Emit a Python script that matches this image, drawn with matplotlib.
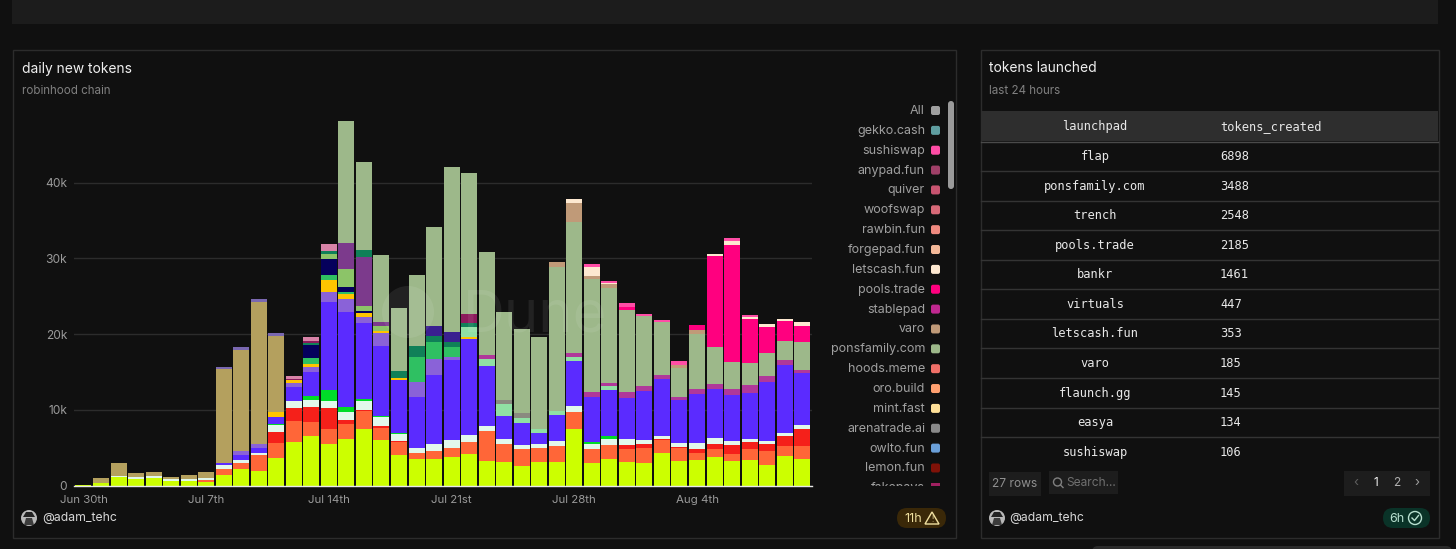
import matplotlib
matplotlib.use("Agg")
from matplotlib import pyplot as plt
from matplotlib.patches import Circle, FancyBboxPatch, Polygon, Rectangle
import numpy as np

W, H = 1456, 549
plt.rcParams["font.family"] = ["Inter", "DejaVu Sans"]

# daily tokens per launchpad, Jun 30th to Aug 10th, one row per week
lime = [130, 350, 1140, 920, 1060, 570, 620,
        530, 1410, 2200, 1940, 3650, 5810, 6560,
        5500, 6160, 7480, 6030, 4050, 3520, 3520,
        3740, 4140, 3260, 3170, 2640, 3170, 3170,
        7480, 3040, 3480, 3170, 2990, 4310, 3300,
        3340, 3780, 3260, 3430, 2770, 3920, 3520]
orange = [0, 0, 0, 0, 0, 0, 0,
          260, 790, 750, 2070, 1980, 2730, 1850,
          1980, 1940, 2420, 1630, 1670, 750, 1010,
          1280, 1580, 3960, 2380, 2200, 1760, 2070,
          2290, 1760, 1890, 1630, 2020, 1760, 1670,
          1010, 1060, 970, 1410, 1760, 1360, 1720]
red = [0, 0, 0, 0, 0, 0, 0,
       0, 0, 0, 0, 1450, 1670, 1980,
       2820, 570, 130, 180, 130, 0, 0,
       0, 0, 0, 0, 0, 0, 0,
       0, 0, 0, 620, 530, 130, 130,
       530, 700, 1140, 920, 1010, 1320, 2200]
mint = [0, 0, 180, 180, 220, 260, 260,
        220, 530, 440, 350, 920, 970, 920,
        920, 1100, 1190, 1230, 920, 750, 920,
        1010, 920, 700, 570, 570, 530, 660,
        700, 700, 750, 700, 530, 310, 530,
        700, 700, 570, 350, 310, 400, 530]
bright_green = [0, 0, 0, 0, 0, 0, 0,
                0, 0, 0, 0, 90, 0, 570,
                1450, 570, 260, 130, 130, 0, 0,
                0, 0, 0, 0, 0, 0, 0,
                0, 310, 400, 0, 0, 0, 0,
                0, 0, 0, 0, 0, 0, 0]
violet = [0, 0, 0, 0, 0, 0, 0,
          0, 220, 700, 620, 920, 1850, 3080,
          11570, 12540, 9940, 9280, 7000, 6640, 9200,
          10560, 12670, 7880, 3080, 2820, 1540, 3390,
          5980, 5940, 6160, 5410, 6420, 7570, 5630,
          6560, 6560, 5980, 6070, 7790, 8930, 6860]
light_purple = [0, 0, 0, 0, 0, 0, 0,
                0, 0, 440, 530, 0, 530, 700,
                1280, 1760, 880, 1720, 0, 2070, 2070,
                350, 0, 0, 0, 0, 0, 0,
                0, 0, 0, 0, 0, 0, 0,
                0, 0, 0, 0, 0, 0, 0]
yellow = [0, 0, 0, 0, 0, 0, 0,
          0, 0, 0, 0, 660, 350, 440,
          1630, 660, 440, 260, 350, 0, 0,
          0, 260, 0, 0, 0, 0, 0,
          0, 0, 0, 0, 0, 0, 0,
          0, 0, 0, 0, 0, 0, 0]
green2 = [0, 0, 0, 0, 0, 0, 0,
          0, 0, 0, 0, 0, 0, 790,
          660, 260, 0, 0, 0, 3300, 2290,
          1320, 0, 0, 0, 0, 0, 0,
          0, 0, 0, 0, 0, 0, 0,
          0, 0, 0, 0, 0, 0, 0]
navy = [0, 0, 0, 0, 0, 0, 0,
        0, 0, 0, 0, 0, 0, 1670,
        2160, 620, 260, 0, 0, 0, 0,
        0, 0, 0, 0, 0, 0, 0,
        0, 0, 0, 0, 0, 0, 0,
        0, 0, 0, 0, 0, 0, 0]
mid_green = [0, 0, 0, 0, 0, 0, 0,
             0, 0, 0, 0, 0, 0, 0,
             620, 2380, 750, 620, 0, 0, 0,
             0, 0, 0, 0, 0, 0, 0,
             0, 0, 0, 0, 0, 0, 0,
             0, 0, 0, 0, 0, 0, 0]
pale_green = [0, 0, 0, 0, 0, 0, 0,
              0, 0, 0, 0, 0, 0, 0,
              0, 0, 0, 0, 0, 0, 0,
              0, 1410, 880, 1540, 750, 530, 620,
              570, 0, 480, 0, 0, 0, 0,
              0, 0, 0, 0, 0, 0, 0]
purple = [0, 0, 0, 0, 0, 0, 0,
          0, 0, 0, 0, 0, 0, 0,
          0, 3430, 6470, 570, 0, 0, 0,
          0, 0, 0, 0, 0, 0, 0,
          0, 0, 0, 0, 0, 0, 0,
          0, 0, 0, 0, 0, 0, 0]
teal = [0, 0, 0, 0, 0, 0, 0,
        0, 0, 0, 0, 0, 0, 260,
        400, 0, 880, 0, 920, 1450, 750,
        750, 440, 0, 0, 0, 0, 0,
        0, 0, 0, 0, 0, 0, 0,
        0, 0, 0, 0, 0, 0, 0]
indigo = [0, 0, 0, 0, 0, 0, 0,
          0, 0, 0, 0, 0, 0, 0,
          0, 0, 0, 0, 0, 0, 1360,
          1280, 0, 0, 0, 0, 0, 0,
          0, 0, 0, 0, 0, 0, 0,
          0, 0, 0, 0, 0, 0, 0]
maroon = [0, 0, 0, 0, 0, 0, 0,
          0, 0, 0, 0, 0, 220, 220,
          0, 0, 0, 0, 0, 0, 0,
          0, 1230, 0, 0, 0, 0, 0,
          0, 0, 0, 0, 0, 0, 0,
          0, 0, 0, 0, 0, 0, 0]
stablepad = [0, 0, 0, 0, 0, 0, 0,
             0, 0, 0, 0, 0, 0, 0,
             0, 0, 0, 0, 0, 0, 0,
             0, 0, 530, 0, 0, 0, 0,
             480, 660, 350, 880, 700, 480, 480,
             570, 660, 880, 1060, 840, 620, 400]
grey = [0, 0, 0, 0, 0, 0, 0,
        0, 0, 0, 0, 0, 0, 0,
        0, 0, 0, 0, 0, 0, 0,
        0, 0, 0, 570, 570, 0, 0,
        0, 0, 0, 0, 0, 0, 0,
        0, 0, 0, 0, 0, 0, 0]
khaki = [0, 660, 1630, 620, 530, 310, 570,
         790, 12500, 13420, 18700, 10120, 0, 0,
         0, 0, 0, 0, 0, 0, 0,
         0, 0, 0, 0, 0, 0, 0,
         0, 0, 0, 0, 0, 0, 0,
         0, 0, 0, 0, 0, 0, 0]
khaki_cap = [0, 0, 0, 0, 0, 0, 0,
             0, 220, 310, 400, 350, 0, 0,
             0, 0, 0, 0, 0, 0, 0,
             0, 0, 0, 0, 0, 0, 0,
             0, 0, 0, 0, 0, 0, 0,
             0, 0, 0, 0, 0, 0, 0]
pink_mix = [0, 0, 0, 0, 0, 0, 0,
            0, 0, 0, 0, 0, 350, 530,
            880, 0, 0, 0, 0, 0, 0,
            0, 0, 0, 0, 0, 0, 0,
            0, 0, 0, 0, 0, 0, 0,
            0, 0, 0, 0, 0, 0, 0]
ponsfamily = [0, 0, 0, 0, 0, 0, 0,
              0, 0, 0, 0, 0, 0, 0,
              0, 16100, 11570, 8800, 8320, 9330, 12980,
              21740, 18610, 13600, 11570, 11180, 12140, 18960,
              17340, 14830, 12540, 10820, 9200, 7000, 3780,
              7300, 4840, 3480, 2990, 3040, 2600, 3700]
varo = [0, 0, 0, 0, 0, 0, 0,
        0, 0, 0, 0, 0, 0, 0,
        0, 0, 0, 0, 0, 0, 0,
        0, 0, 0, 0, 0, 0, 700,
        2420, 480, 570, 0, 0, 0, 400,
        530, 0, 0, 0, 0, 0, 0]
pools_trade = [0, 0, 0, 0, 0, 0, 0,
               0, 0, 0, 0, 0, 0, 0,
               0, 0, 0, 0, 0, 0, 0,
               0, 0, 0, 0, 0, 0, 0,
               0, 0, 0, 350, 0, 0, 0,
               620, 12010, 15490, 5720, 3430, 2600, 2200]
letscash = [0, 0, 0, 0, 0, 0, 0,
            0, 0, 0, 0, 0, 0, 0,
            0, 0, 0, 0, 0, 0, 0,
            0, 0, 0, 0, 0, 0, 0,
            530, 1190, 180, 0, 0, 0, 0,
            0, 310, 530, 310, 350, 310, 440]
sushiswap = [0, 0, 0, 0, 0, 0, 0,
             0, 0, 0, 0, 0, 0, 0,
             0, 0, 0, 0, 0, 0, 0,
             0, 0, 0, 0, 0, 0, 0,
             0, 310, 220, 530, 260, 310, 570,
             0, 0, 400, 220, 0, 0, 0]

stack = [(lime, "#ccff00"), (orange, "#ff6638"), (red, "#f5201a"), (mint, "#e2f8ec"),
         (bright_green, "#00dc28"), (violet, "#5b2bff"), (light_purple, "#8a62d8"),
         (yellow, "#ffc400"), (green2, "#2fc062"), (navy, "#05005c"), (mid_green, "#8cc468"),
         (pale_green, "#90e0a4"), (purple, "#7c3a8c"), (teal, "#108058"), (indigo, "#3a2090"),
         (maroon, "#8c1a5c"), (stablepad, "#b0389a"), (grey, "#8a8a80"), (khaki, "#b4a05e"),
         (khaki_cap, "#7a68b0"), (pink_mix, "#d884a8"), (ponsfamily, "#9db88a"),
         (varo, "#c09a78"), (pools_trade, "#ff007f"), (letscash, "#fde8d0"),
         (sushiswap, "#ff4da6")]

date_ticks = [0, 7, 14, 21, 28, 35]
date_labels = ["Jun 30th", "Jul 7th", "Jul 14th", "Jul 21st", "Jul 28th", "Aug 4th"]
y_ticks = [0, 10000, 20000, 30000, 40000]
y_labels = ["0", "10k", "20k", "30k", "40k"]

legend_names = ["All", "gekko.cash", "sushiswap", "anypad.fun", "quiver", "woofswap",
                "rawbin.fun", "forgepad.fun", "letscash.fun", "pools.trade", "stablepad",
                "varo", "ponsfamily.com", "hoods.meme", "oro.build", "mint.fast",
                "arenatrade.ai", "owlto.fun", "lemon.fun"]
legend_colors = ["#a0a0a0", "#5f9ea0", "#ff4da6", "#a04068", "#c85470", "#d86a78",
                 "#f08a80", "#f4b898", "#fde8d0", "#ff007f", "#c02890",
                 "#c09a78", "#9db88a", "#f07068", "#ffa070", "#ffe098",
                 "#8a8a8a", "#6a9fd8", "#801208"]

launchpads = ["flap", "ponsfamily.com", "trench", "pools.trade", "bankr", "virtuals",
              "letscash.fun", "varo", "flaunch.gg", "easya", "sushiswap"]
tokens_created = [6898, 3488, 2548, 2185, 1461, 447, 353, 185, 145, 134, 106]
row_y = [156, 186, 215, 245, 274, 304, 333, 363, 393, 422, 452]

BG = "#101010"
fs = lambda px: px * 0.72  # font px to pt at dpi 100


def box(ax, x0, y0, x1, y1, color, radius=0, **kw):
    if radius:
        p = FancyBboxPatch((x0 + radius, y0 + radius), x1 - x0 - 2 * radius, y1 - y0 - 2 * radius,
                           boxstyle="round,pad=%f,rounding_size=%f" % (radius, radius),
                           fc=color, ec="none", **kw)
    else:
        p = Rectangle((x0, y0), x1 - x0, y1 - y0, fc=color, ec=kw.pop("ec", "none"), **kw)
    ax.add_patch(p)


def avatar(ax, x, y):
    ax.add_patch(Circle((x, y), 8, fc="#b8b8b8", ec="none"))
    ax.add_patch(Polygon([(x - 6, y - 1), (x + 6, y - 1), (x + 3, y - 6), (x - 3, y - 6)], fc="#222222", ec="none"))
    ax.add_patch(Polygon([(x - 5, y + 7), (x + 5, y + 7), (x + 3, y), (x - 3, y)], fc="#3c3c3c", ec="none"))


fig = plt.figure(figsize=(W / 100, H / 100), dpi=100, facecolor=BG)

# page chrome, in pixel coordinates
bg = fig.add_axes([0, 0, 1, 1], zorder=0)
bg.set_xlim(0, W)
bg.set_ylim(H, 0)
bg.axis("off")
box(bg, 12, 0, 1438, 24, "#1c1c1c")
box(bg, 1092, 546, 1452, 560, "#2a2a2a", radius=6)
bg.add_patch(Rectangle((12.5, 49.5), 943, 488, fc="none", ec="#2c2c2c", lw=1))
bg.add_patch(Rectangle((980.5, 49.5), 458, 488, fc="none", ec="#2c2c2c", lw=1))

bg.text(22, 68.5, "daily new tokens", color="#f0f0f0", fontsize=fs(13.8), va="center")
bg.text(22, 90.8, "robinhood chain", color="#808080", fontsize=fs(11.6), va="center")
bg.text(989, 68.5, "tokens launched", color="#f0f0f0", fontsize=fs(13.8), va="center")
bg.text(989, 90.8, "last 24 hours", color="#808080", fontsize=fs(11.6), va="center")

# legend
for i, (name, col) in enumerate(zip(legend_names, legend_colors)):
    ly = 110.5 + i * 19.86
    bg.text(925, ly + 0.5, name, color="#a0a0a0", fontsize=fs(12.5), ha="right", va="center")
    box(bg, 931, ly - 4.5, 940, ly + 4.5, col, radius=2)
clip = Rectangle((820, 470), 125, 15.5, transform=bg.transData)
t = bg.text(925, 110.5 + 19 * 19.86, "fakepays", color="#a0a0a0", fontsize=fs(12.5), ha="right", va="center",
            clip_on=True)
t.set_clip_path(clip)
bg.add_patch(Rectangle((931, 483), 9, 2.5, fc="#a02060", ec="none"))
box(bg, 948, 101, 954, 189, "#9a9a9a", radius=3)

# table
box(bg, 981, 111, 1438, 141, "#2e2e2e")
mono = ["DejaVu Sans Mono"]
bg.text(1095, 126.5, "launchpad", color="#e8e8e8", fontsize=fs(12), family=mono, ha="center", va="center")
bg.text(1220, 126.5, "tokens_created", color="#e8e8e8", fontsize=fs(12), family=mono, va="center")
bg.plot([981, 1438], [141.5, 141.5], color="#4a4a4a", lw=1)
for name, val, y in zip(launchpads, tokens_created, row_y):
    bg.text(1095, y + 0.5, name, color="#e8e8e8", fontsize=fs(12), family=mono, ha="center", va="center")
    bg.text(1220, y + 0.5, str(val), color="#e8e8e8", fontsize=fs(12), family=mono, va="center")
    if y < 452:
        bg.plot([981, 1438], [y + 15, y + 15], color="#343434", lw=1)

# table footer
box(bg, 989, 472, 1041, 496, "#1d1d1d")
bg.text(1015, 484, "27 rows", color="#909090", fontsize=fs(12), ha="center", va="center")
box(bg, 1049, 471, 1118, 494, "#1d1d1d")
bg.add_patch(Circle((1057.5, 482), 4, fc="none", ec="#808080", lw=1))
bg.plot([1060.5, 1063], [485, 487.5], color="#808080", lw=1)
bg.text(1066, 483, "Search...", color="#707070", fontsize=fs(12), va="center")
box(bg, 1344, 471, 1430, 496, "#1d1d1d")
bg.text(1356, 483, "‹", color="#606060", fontsize=fs(13), ha="center", va="center")
bg.text(1376, 483.5, "1", color="#f0f0f0", fontsize=fs(12), ha="center", va="center")
bg.text(1397, 483.5, "2", color="#b0b0b0", fontsize=fs(12), ha="center", va="center")
bg.text(1417, 483, "›", color="#a0a0a0", fontsize=fs(13), ha="center", va="center")

avatar(bg, 997, 518)
bg.text(1009, 518.5, "@adam_tehc", color="#d8d8d8", fontsize=fs(12.2), va="center")
box(bg, 1383, 508, 1430, 528, "#0a3328", radius=10)
bg.text(1389, 518.5, "6h", color="#b8e0d0", fontsize=fs(12.5), va="center")
bg.add_patch(Circle((1415, 518), 6.5, fc="none", ec="#b8e0d0", lw=1))
bg.plot([1412, 1414.5, 1418.5], [518, 520.5, 515.5], color="#b8e0d0", lw=1)

avatar(bg, 29, 518)
bg.text(42, 518.5, "@adam_tehc", color="#d8d8d8", fontsize=fs(12.2), va="center")
box(bg, 897, 508, 946, 528, "#3a2808", radius=10)
bg.text(904, 518.5, "11h", color="#f0e0a0", fontsize=fs(12.5), va="center")
bg.add_patch(Polygon([(932, 512), (939, 524), (925, 524)], fc="none", ec="#f0e0a0", lw=1))
bg.text(932, 519.5, "!", color="#f0e0a0", fontsize=fs(8), ha="center", va="center")

# chart, axes box placed in pixels
left, right, top, bottom = 74, 812, 100, 485.7
ax = fig.add_axes([left / W, 1 - bottom / H, (right - left) / W, (bottom - top) / H], zorder=1)
ax.patch.set_alpha(0)
x = np.arange(len(lime))
base = np.zeros(len(lime))
for values, col in stack:
    ax.bar(x, values, bottom=base, width=0.91, color=col, zorder=3)
    base += np.array(values)
ax.set_xlim(-0.54, 41.56)
ax.set_ylim(0, (bottom - top) / 75.75 * 10000)
ax.set_yticks(y_ticks, y_labels)
ax.set_xticks(date_ticks, date_labels)
ax.grid(axis="y", color="#2c2c2c", lw=1, zorder=0)
ax.tick_params(length=0, colors="#9a9a9a", labelsize=fs(12))
ax.tick_params(axis="x", labelsize=fs(11.5), pad=7)
ax.tick_params(axis="y", pad=5)
for s in ["top", "right", "left"]:
    ax.spines[s].set_visible(False)
ax.spines["bottom"].set_color("#e8e8e8")
ax.spines["bottom"].set_linewidth(1)
ax.spines["bottom"].set_zorder(5)

# watermark over the bars
over = fig.add_axes([0, 0, 1, 1], zorder=2)
over.set_xlim(0, W)
over.set_ylim(H, 0)
over.axis("off")
over.add_patch(Circle((408, 312), 26, fc="white", ec="none", alpha=0.08))
over.text(463, 316, "Dune", color="white", alpha=0.08, fontsize=fs(58), va="center")

fig.savefig("out.png", dpi=100, facecolor=BG)
